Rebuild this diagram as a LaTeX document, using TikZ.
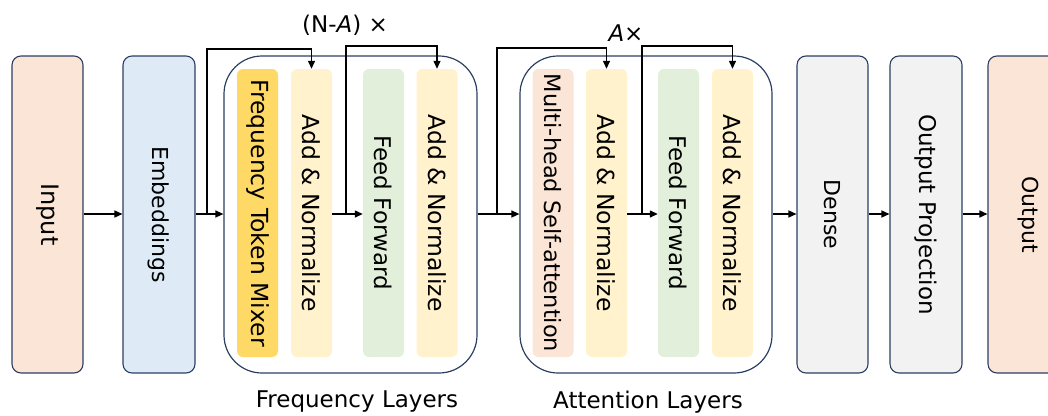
\documentclass[tikz,border=0pt]{standalone}
\usepackage{fontspec}
\setmainfont{DejaVu Sans}
\usetikzlibrary{arrows.meta,calc}
\definecolor{navy}{HTML}{2B3F63}
\definecolor{peach}{HTML}{FBE5D6}
\definecolor{lblue}{HTML}{DEEBF7}
\definecolor{lgray}{HTML}{F2F2F2}
\definecolor{gold}{HTML}{FFD966}
\definecolor{cream}{HTML}{FFF2CC}
\definecolor{lgreen}{HTML}{E2EFDA}
\newcommand{\fsz}[1]{\fontsize{#1}{#1}\selectfont}
\begin{document}
\begin{tikzpicture}[x=1pt,y=-1pt,
  outerbox/.style={draw=navy,line width=1.1pt,rounded corners=9pt,minimum height=317pt,inner sep=0pt,font=\fsz{22}},
  container/.style={draw=navy,line width=1.2pt,rounded corners=38pt,minimum height=317pt,inner sep=0pt},
  inner/.style={rounded corners=6pt,minimum height=288pt,minimum width=41pt,inner sep=0pt,font=\fsz{23.5}},
  arr/.style={line width=1.3pt,-{Triangle[length=8pt,width=7pt]}},
  skip/.style={line width=1.3pt,-{Triangle[length=8pt,width=7pt]}},
  lbl/.style={font=\fsz{23}}
]
\useasboundingbox (0,0) rectangle (1048,415);
% outer boxes
\node[outerbox,fill=peach,minimum width=71pt] (in) at (47.5,214.5) {\rotatebox{-90}{\fsz{24}Input}};
\node[outerbox,fill=lblue,minimum width=72pt] (emb) at (159,214.5) {\rotatebox{-90}{Embeddings}};
\node[outerbox,fill=lgray,minimum width=71pt] (dense) at (832.5,214.5) {\rotatebox{-90}{Dense}};
\node[outerbox,fill=lgray,minimum width=72pt] (op) at (926,214.5) {\rotatebox{-90}{\fsz{23}Output Projection}};
\node[outerbox,fill=peach,minimum width=80pt] (out) at (1028,214.5) {\rotatebox{-90}{Output}};
% containers
\node[container,minimum width=253pt] (fc) at (350.5,214.5) {};
\node[container,minimum width=252pt] (ac) at (646,214.5) {};
% inner blocks frequency
\node[inner,fill=gold] (ftm) at (257.5,213) {\rotatebox{-90}{Frequency Token Mixer}};
\node[inner,fill=cream] (an1) at (311.5,213) {\rotatebox{-90}{Add \& Normalize}};
\node[inner,fill=lgreen] (ff1) at (383.5,213) {\rotatebox{-90}{\fsz{23}Feed Forward}};
\node[inner,fill=cream] (an2) at (437,213) {\rotatebox{-90}{Add \& Normalize}};
% inner blocks attention
\node[inner,fill=peach] (mh) at (553,213) {\rotatebox{-90}{\fsz{22.5}Multi-head Self-attention}};
\node[inner,fill=cream] (an3) at (606.5,213) {\rotatebox{-90}{Add \& Normalize}};
\node[inner,fill=lgreen] (ff2) at (678.5,213) {\rotatebox{-90}{\fsz{23}Feed Forward}};
\node[inner,fill=cream] (an4) at (732.5,213) {\rotatebox{-90}{Add \& Normalize}};
% labels
\node[lbl] (nal) at (345,25) {(N-\textit{A}) ×};
\node[lbl] (al) at (626,33) {\textit{A}×};
\node[lbl] (fl) at (357,402) {Frequency Layers};
\node[lbl] (atl) at (648,402) {Attention Layers};
% branch coordinates
\coordinate (b1) at (207,214);
\coordinate (b2) at (346,214);
\coordinate (b3) at (497,214);
\coordinate (b4) at (642,214);
% main flow
\draw[arr] (in.east |- b1) -- (emb.west |- b1);
\draw[arr] (emb.east |- b1) -- (fc.west |- b1);
\draw[arr] (an1.east |- b2) -- (ff1.west |- b2);
\draw[arr] (fc.east |- b3) -- (ac.west |- b3);
\draw[arr] (an3.east |- b4) -- (ff2.west |- b4);
\draw[arr] (ac.east |- b1) -- (dense.west |- b1);
\draw[arr] (dense.east |- b1) -- (op.west |- b1);
\draw[arr] (op.east |- b1) -- (out.west |- b1);
% skip connections
\draw[skip] (b1) -- ++(0,-165) -| (an1.north);
\draw[skip] (b2) -- ++(0,-168) -| (an2.north);
\draw[skip] (b3) -- ++(0,-166) -| (an3.north);
\draw[skip] (b4) -- ++(0,-168) -| (an4.north);
\end{tikzpicture}
\end{document}
